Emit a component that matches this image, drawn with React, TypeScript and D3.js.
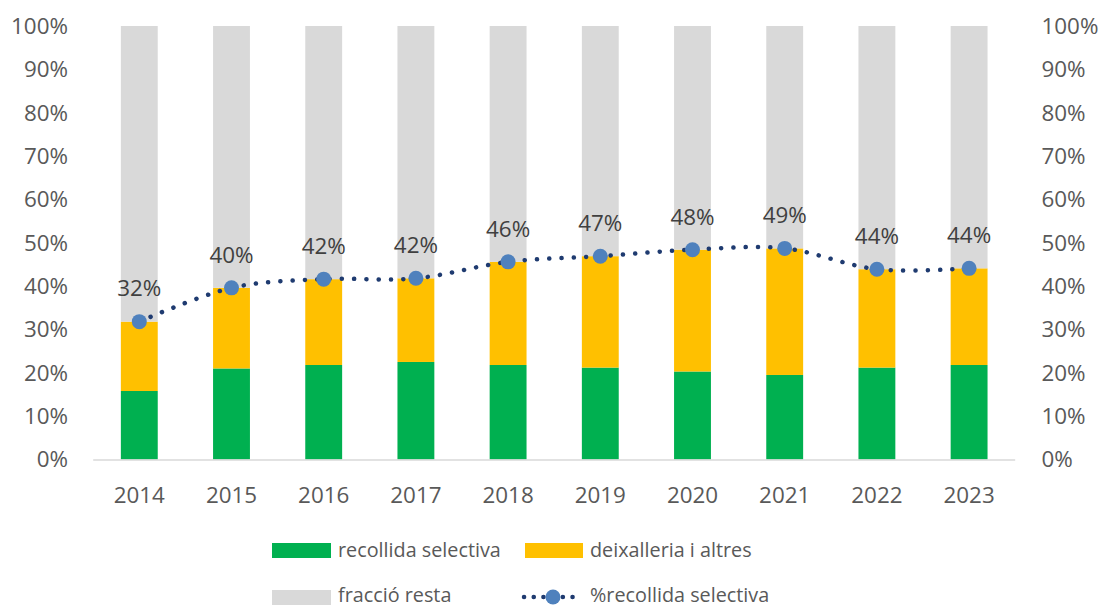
import React from "react";
import * as d3 from "d3";

const years = ["2014","2015","2016","2017","2018","2019","2020","2021","2022","2023"];
const recollida = [15.8, 21.0, 21.8, 22.5, 21.8, 21.2, 20.3, 19.5, 21.2, 21.8];
const pctSelectiva = [31.8, 39.6, 41.6, 41.8, 45.6, 46.9, 48.4, 48.7, 43.9, 44.1];
const deixalleria = pctSelectiva.map((t, i) => +(t - recollida[i]).toFixed(1));
const resta = pctSelectiva.map((t) => +(100 - t).toFixed(1));
const yTicks = [0, 10, 20, 30, 40, 50, 60, 70, 80, 90, 100];

const FONT = "'Open Sans', 'Noto Sans', sans-serif";
const C_GREEN = "#00B050";
const C_YELLOW = "#FFC000";
const C_GRAY = "#D9D9D9";
const C_LINE = "#1F3B70";
const C_MARK = "#4F81BD";
const C_TEXT = "#595959";
const NUM = 22.4;
const LEG = 19.8;

export default function App() {
  const W = 1100, H = 608;
  const x = d3.scaleBand<string>().domain(years).range([93.2, 1015.2]).paddingInner(0.6).paddingOuter(0.3);
  const y = d3.scaleLinear().domain([0, 100]).range([459.5, 26]);
  const bw = x.bandwidth();
  const cx = (yr: string) => (x(yr) as number) + bw / 2;

  const line = d3.line<number>()
    .x((_, i) => cx(years[i]))
    .y((d) => y(d))
    .curve(d3.curveCardinal.tension(0));

  const stacks = years.map((yr, i) => {
    const g = recollida[i], dx = deixalleria[i], r = resta[i];
    return [
      { y0: 0, y1: g, c: C_GREEN },
      { y0: g, y1: g + dx, c: C_YELLOW },
      { y0: g + dx, y1: g + dx + r, c: C_GRAY },
    ];
  });

  return (
    <svg width={W} height={H} style={{ position: "absolute", left: 0, top: 0, background: "#fff" }}>
      {stacks.map((st, i) =>
        st.map((s, j) => (
          <rect key={`${i}-${j}`} x={x(years[i])} y={y(s.y1)} width={bw} height={y(s.y0) - y(s.y1)} fill={s.c} />
        ))
      )}
      <line x1={93.2} x2={1015.2} y1={460} y2={460} stroke="#D9D9D9" strokeWidth={1.5} />
      {yTicks.map((t) => (
        <g key={t} fontFamily={FONT} fontSize={NUM} fill={C_TEXT}>
          <text x={68} y={y(t)} dy="0.35em" textAnchor="end">{t}%</text>
          <text x={1041.5} y={y(t)} dy="0.35em" textAnchor="start">{t}%</text>
        </g>
      ))}
      {years.map((yr) => (
        <text key={yr} x={cx(yr)} y={495} dy="0.35em" textAnchor="middle" fontFamily={FONT} fontSize={NUM} fill={C_TEXT}>{yr}</text>
      ))}
      <path d={line(pctSelectiva) || ""} fill="none" stroke={C_LINE} strokeWidth={4.5} strokeLinecap="round" strokeDasharray="0.1 12.2" />
      {pctSelectiva.map((v, i) => (
        <circle key={i} cx={cx(years[i])} cy={y(v)} r={7.5} fill={C_MARK} />
      ))}
      {pctSelectiva.map((v, i) => (
        <text key={i} x={cx(years[i])} y={y(v) - 33} dy="0.35em" textAnchor="middle" fontFamily={FONT} fontSize={NUM} fill="#404040">{Math.round(v)}%</text>
      ))}
      <g fontFamily={FONT} fontSize={LEG} fill={C_TEXT}>
        <rect x={272} y={543} width={59} height={15} fill={C_GREEN} />
        <text x={338} y={550} dy="0.35em">recollida selectiva</text>
        <rect x={525} y={543} width={58} height={15} fill={C_YELLOW} />
        <text x={590} y={550} dy="0.35em">deixalleria i altres</text>
        <rect x={272} y={590} width={59} height={15} fill={C_GRAY} />
        <text x={338} y={595} dy="0.35em">fracció resta</text>
        <line x1={524} x2={582} y1={597} y2={597} stroke={C_LINE} strokeWidth={4.5} strokeLinecap="round" strokeDasharray="0.1 9.6" />
        <circle cx={553} cy={597} r={7.5} fill={C_MARK} />
        <text x={590} y={595} dy="0.35em">%recollida selectiva</text>
      </g>
    </svg>
  );
}
